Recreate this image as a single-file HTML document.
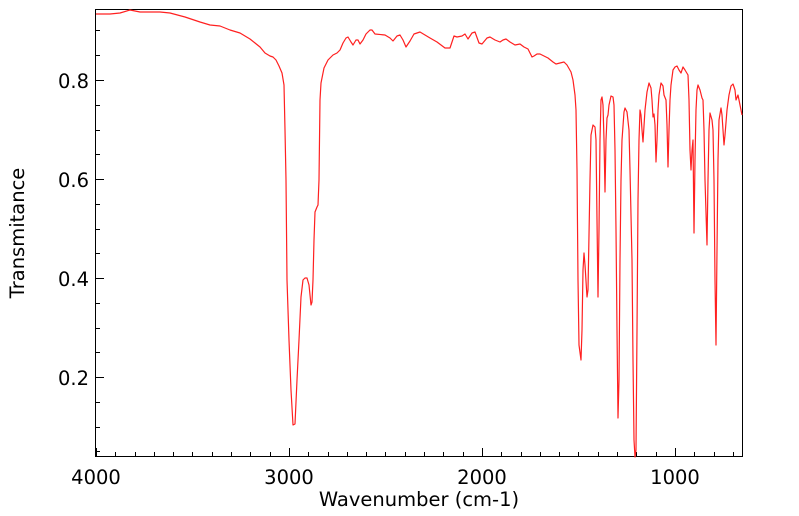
<!DOCTYPE html>
<html><head><meta charset="utf-8"><style>
html,body{margin:0;padding:0;background:#fff;}
svg{display:block;font-family:"DejaVu Sans",sans-serif;}
</style></head><body>
<svg width="799" height="516" viewBox="0 0 799 516" xmlns="http://www.w3.org/2000/svg">
<rect x="0" y="0" width="799" height="516" fill="#fff"/>
<g stroke="#000" stroke-width="1">
<rect x="95.5" y="9.5" width="647" height="447" fill="none"/>
<path d="M96 80.5h8M96 179.5h8M96 278.5h8M96 377.5h8
M96 30.5h4M96 55.5h4M96 105.5h4M96 130.5h4M96 154.5h4M96 204.5h4M96 229.5h4M96 253.5h4M96 303.5h4M96 328.5h4M96 352.5h4M96 402.5h4M96 427.5h4M96 451.5h4"/>
<path d="M96.5 456v-8M289.5 456v-8M482.5 456v-8M675.5 456v-8
M115.5 456v-4M135.5 456v-4M154.5 456v-4M173.5 456v-4M192.5 456v-4M212.5 456v-4M231.5 456v-4M250.5 456v-4M270.5 456v-4
M308.5 456v-4M328.5 456v-4M347.5 456v-4M366.5 456v-4M385.5 456v-4M405.5 456v-4M424.5 456v-4M443.5 456v-4M463.5 456v-4
M501.5 456v-4M521.5 456v-4M540.5 456v-4M559.5 456v-4M578.5 456v-4M598.5 456v-4M617.5 456v-4M636.5 456v-4M656.5 456v-4
M694.5 456v-4M714.5 456v-4M733.5 456v-4"/>
</g>
<g font-size="19.5" fill="#000">
<text x="89" y="88" text-anchor="end">0.8</text>
<text x="89" y="187" text-anchor="end">0.6</text>
<text x="89" y="286" text-anchor="end">0.4</text>
<text x="89" y="385" text-anchor="end">0.2</text>
<text x="96" y="484" text-anchor="middle">4000</text>
<text x="289" y="484" text-anchor="middle">3000</text>
<text x="482" y="484" text-anchor="middle">2000</text>
<text x="675" y="484" text-anchor="middle">1000</text>
<text x="419" y="506" text-anchor="middle">Wavenumber (cm-1)</text>
<text transform="translate(24,233) rotate(-90)" text-anchor="middle">Transmitance</text>
</g>
<polyline fill="none" stroke="#ff2020" stroke-width="1.2" stroke-linejoin="round" points="
96,14 110,14 120,13 130,10 135,11 140,12 160,12 170,13 185,17 200,22 210,25 220,26 230,30 240,33 250,39 260,47 265,53 270,56 273,57 276,60 279,66 282,73 284,85 285,130 286,180 287,280 289,340 291,390 293,425 295,424 297,380 299,340 301,297 303,280 305,278 307,278 309,285 311,305 312,302 313,280 314,240 315,212 317,207 318,205 319,180 320,100 321,83 324,68 328,60 333,55 337,53 340,50 343,43 346,38 348,37 351,42 353,45 356,40 358,40 360,44 363,40 366,34 370,30 372,30 375,34 385,35 390,38 393,41 397,36 400,35 403,40 406,47 410,41 414,34 420,32 430,38 437,42 441,45 445,48 450,48 452,42 454,36 457,37 462,36 465,34 468,39 472,33 475,32 479,43 482,44 487,38 490,37 495,40 500,42 503,40 506,39 510,42 515,45 520,44 524,47 528,49 532,57 534,56 537,54 540,54 548,58 553,62 556,64 560,63 564,62 567,65 571,72 573,80 575,95 576,110 577,170 578,280 579,345 581,360 582,330 583,270 584,253 585,265 587,297 588,290 590,180 591,135 593,125 595,127 596,140 597,220 598,297 599,230 600,140 601,100 602,97 603,105 604,140 605,192 606,140 607,118 608,115 609,105 611,96 613,97 614,105 615,150 616,230 617,330 618,418 619,380 620,260 621,180 622,140 624,112 625,108 627,112 629,130 630,170 632,260 633,360 634,440 635,457 636,450 637,330 638,200 639,140 640,110 641,115 642,130 643,142 645,110 647,92 649,83 651,88 652,100 653,117 654,114 655,125 656,162 657,140 658,110 659,95 661,83 663,86 664,95 666,100 667,125 668,167 669,130 670,100 671,85 673,70 675,67 677,66 679,70 681,73 683,67 685,70 688,75 689,100 690,150 691,170 692,150 693,140 694,233 695,160 696,110 697,90 698,85 700,90 702,98 703,100 704,130 705,180 707,245 708,180 709,130 710,113 712,120 713,130 714,180 715,280 716,345 717,250 718,160 719,120 721,108 722,115 723,130 724,145 725,135 727,110 729,95 731,86 733,84 735,90 736,100 738,95 740,105 742,115"/>
</svg>
</body></html>
